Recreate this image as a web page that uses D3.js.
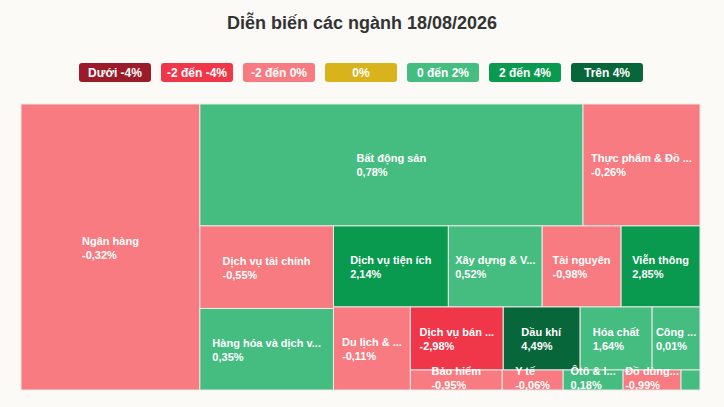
<!DOCTYPE html>
<html><head><meta charset="utf-8">
<script src="https://cdn.jsdelivr.net/npm/d3@7"></script>
<style>
html,body{margin:0;padding:0;background:#fbfaf7;}
svg{display:block;font-family:"Liberation Sans",Arial,Helvetica,sans-serif;}
</style></head><body>
<svg id="chart" width="724" height="407"></svg>
<script>
// ---- data ----
const title = "Diễn biến các ngành 18/08/2026";
const sectors = ["Ngân hàng","Bất động sản","Thực phẩm & Đồ uống","Dịch vụ tài chính",
  "Hàng hóa và dịch vụ công nghiệp","Dịch vụ tiện ích","Xây dựng & Vật liệu","Tài nguyên",
  "Viễn thông","Du lịch & Giải trí","Dịch vụ bán lẻ","Dầu khí","Hóa chất","Công nghệ thông tin",
  "Bảo hiểm","Y tế","Ôtô & linh kiện","Đồ dùng cá nhân","Truyền thông"];
const sizes = [5119,4673,1427,1104,1090,932,761,640,640,639,586,485,454,302,184,122,120,116,38];
const changes = [-0.32,0.78,-0.26,-0.55,0.35,2.14,0.52,-0.98,2.85,-0.11,-2.98,4.49,1.64,0.01,-0.95,-0.06,0.18,-0.99,0.40];
const legendLabels = ["Dưới -4%","-2 đến -4%","-2 đến 0%","0%","0 đến 2%","2 đến 4%","Trên 4%"];
const legendColors = ["#9b1b2b","#f0374a","#f77b80","#d8b31c","#45bd81","#0a9a4f","#07673a"];

// ---- setup ----
const svg = d3.select("#chart");
const W = 724, H = 407;
const area = {x: 21, y: 104, w: 679, h: 286};

svg.append("rect").attr("width", W).attr("height", H).attr("fill", "#fbfaf7");

svg.append("text").attr("x", 362).attr("y", 29).attr("text-anchor", "middle")
  .attr("font-size", 18).attr("font-weight", "bold").attr("fill", "#333")
  .text(title);

// legend
const lx = d3.scaleBand().domain(legendLabels).range([79, 643]).paddingInner(10/82);
const lg = svg.append("g");
legendLabels.forEach((l, i) => {
  lg.append("rect").attr("x", lx(l)).attr("y", 63).attr("width", lx.bandwidth()).attr("height", 19)
    .attr("rx", 3).attr("fill", legendColors[i]);
  lg.append("text").attr("x", lx(l) + lx.bandwidth()/2).attr("y", 77).attr("text-anchor", "middle")
    .attr("font-size", 12).attr("font-weight", "bold").attr("fill", "#fff").text(l);
});

// colour by change
const thr = d3.scaleThreshold().domain([-4, -2, 0, 2, 4])
  .range([legendColors[0], legendColors[1], legendColors[2], legendColors[4], legendColors[5], legendColors[6]]);
const colorOf = v => v === 0 ? legendColors[3] : thr(v);

// alternating-direction squarified tiling
function tileAlt(parent, x0, y0, x1, y1) {
  const kids = parent.children;
  if (!kids) return;
  let x = x0, y = y0, w = x1 - x0, h = y1 - y0;
  const k = (w * h) / parent.value;
  let dir = 0; // 0: column on the left, 1: row on top
  let row = [], rowSum = 0;
  const ratio = (a, b) => Math.max(a / b, b / a);
  function flush() {
    if (!row.length) return;
    if (dir === 0) {
      const cw = rowSum / h; let yy = y;
      row.forEach(n => { const hh = n.value * k / cw; n.x0 = x; n.x1 = x + cw; n.y0 = yy; n.y1 = yy + hh; yy += hh; });
      x += cw; w -= cw;
    } else {
      const rh = rowSum / w; let xx = x;
      row.forEach(n => { const ww = n.value * k / rh; n.x0 = xx; n.x1 = xx + ww; n.y0 = y; n.y1 = y + rh; xx += ww; });
      y += rh; h -= rh;
    }
    row = []; rowSum = 0; dir = 1 - dir;
  }
  kids.forEach(n => {
    const a = n.value * k;
    if (row.length) {
      const p = row[row.length - 1].value * k;
      const L = dir === 0 ? h : w;
      const sOld = rowSum / L, sNew = (rowSum + a) / L;
      const lR = ratio(sOld, p / sOld), nR = ratio(sNew, p / sNew);
      if (nR > lR) flush();
    }
    row.push(n); rowSum += a;
  });
  flush();
}

const rootData = {name: "root", children: sectors.map((s, i) => ({name: s, size: sizes[i], change: changes[i]}))};
const root = d3.hierarchy(rootData).sum(d => d.size || 0).sort((a, b) => b.value - a.value);
d3.treemap().size([area.w, area.h]).tile(tileAlt).round(false)(root);

const fmt = d3.formatLocale({decimal: ",", thousands: ".", grouping: [3], currency: ["", ""], minus: "-"}).format(".2f");

const g = svg.append("g").attr("transform", `translate(${area.x},${area.y})`);
const leaves = root.leaves();
g.selectAll("rect.cell").data(leaves).join("rect").attr("class", "cell")
  .attr("x", d => d.x0).attr("y", d => d.y0)
  .attr("width", d => d.x1 - d.x0).attr("height", d => d.y1 - d.y0)
  .attr("fill", d => colorOf(d.data.change))
  .attr("stroke", "#e9e9e6").attr("stroke-width", 1);

function shortName(name, w) {
  const maxChars = Math.floor(w / 6.95);
  return name.length > maxChars ? name.slice(0, Math.max(1, maxChars - 1)) + "..." : name;
}

const labels = g.append("g");
leaves.forEach(d => {
  const w = d.x1 - d.x0;
  if (w < 30) return;
  const cx = (d.x0 + d.x1) / 2, cy = (d.y0 + d.y1) / 2;
  let top = cy - 14.5;
  if (top + 29 > area.h + 2) top = area.h + 2 - 29;
  const t = labels.append("text").attr("font-size", 11).attr("font-weight", "bold").attr("fill", "#fff");
  t.append("tspan").attr("x", 0).attr("y", 12).text(shortName(d.data.name, w));
  t.append("tspan").attr("x", 0).attr("y", 26).text(fmt(d.data.change) + "%");
  const bw = t.node().getBBox().width;
  t.attr("transform", `translate(${cx - bw / 2},${top})`);
});
</script>
</body></html>
